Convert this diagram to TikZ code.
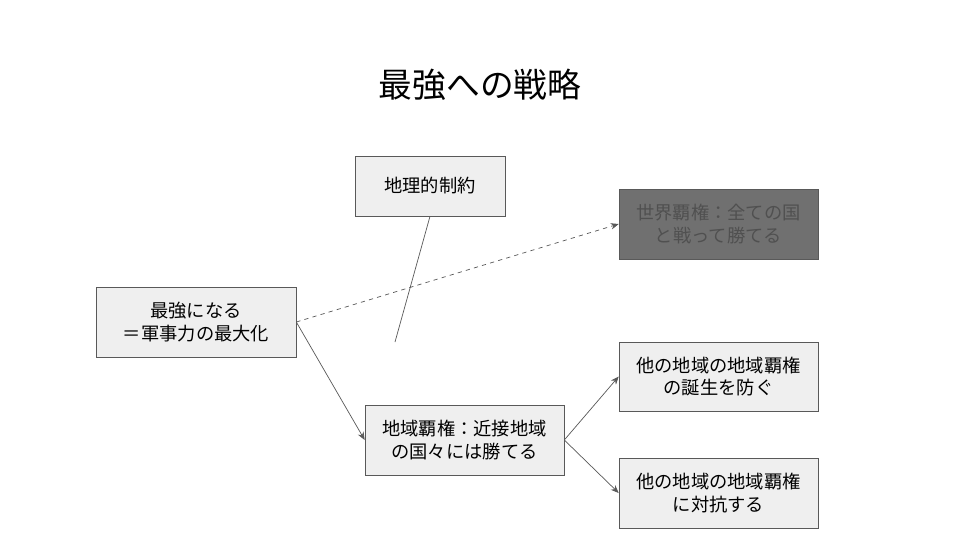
\documentclass[tikz,border=0pt]{standalone}
\usepackage{fontspec}
\setmainfont{Noto Sans CJK JP}
\usetikzlibrary{arrows.meta}
\definecolor{boxfill}{HTML}{EFEFEF}
\definecolor{boxline}{HTML}{595959}
\definecolor{darkfill}{HTML}{707070}
\definecolor{darktext}{HTML}{505050}
\tikzset{
	box/.style={draw=boxline, fill=boxfill, align=center, inner sep=0pt, font=\fontsize{13}{16}\selectfont, text=black},
	darkbox/.style={box, fill=darkfill, text=darktext},
	link/.style={draw=boxline, line width=0.5pt, -{Stealth[length=2mm, width=1.6mm]}}
}
\begin{document}
	\begin{tikzpicture}[x=0.025cm, y=-0.025cm]
		\useasboundingbox[fill=white] (0,0) rectangle (960,540);
		
		% title
		\node (title) at (480,85) {\fontsize{24}{29}\selectfont 最強への戦略};
		
		% left and middle boxes
		\node[box, minimum width=5cm, minimum height=1.75cm] (strong) at (196,322) {最強になる\\＝軍事力の最大化};
		\node[box, minimum width=3.75cm, minimum height=1.5cm] (geo) at (430,186) {地理的制約};
		\node[box, minimum width=4.975cm, minimum height=1.75cm] (regional) at (464.5,440) {地域覇権：近接地域\\の国々には勝てる};
		
		% right boxes
		\node[darkbox, minimum width=4.975cm, minimum height=1.75cm] (world) at (718.5,224) {世界覇権：全ての国\\と戦って勝てる};
		\node[box, minimum width=4.975cm, minimum height=1.725cm] (prevent) at (718.5,376.5) {他の地域の地域覇権\\の誕生を防ぐ};
		\node[box, minimum width=4.975cm, minimum height=1.75cm] (counter) at (718.5,493) {他の地域の地域覇権\\に対抗する};
		
		% the constraint line ends in the open
		\coordinate (cut) at (395,342);
		\draw[boxline, line width=0.5pt] (geo.south) -- (cut);
		
		% connectors
		\draw[link, dashed] (strong.east) -- (world.west);
		\draw[link] (strong.east) -- (regional.west);
		\draw[link] (regional.east) -- (prevent.west);
		\draw[link] (regional.east) -- (counter.west);
	\end{tikzpicture}
\end{document}
